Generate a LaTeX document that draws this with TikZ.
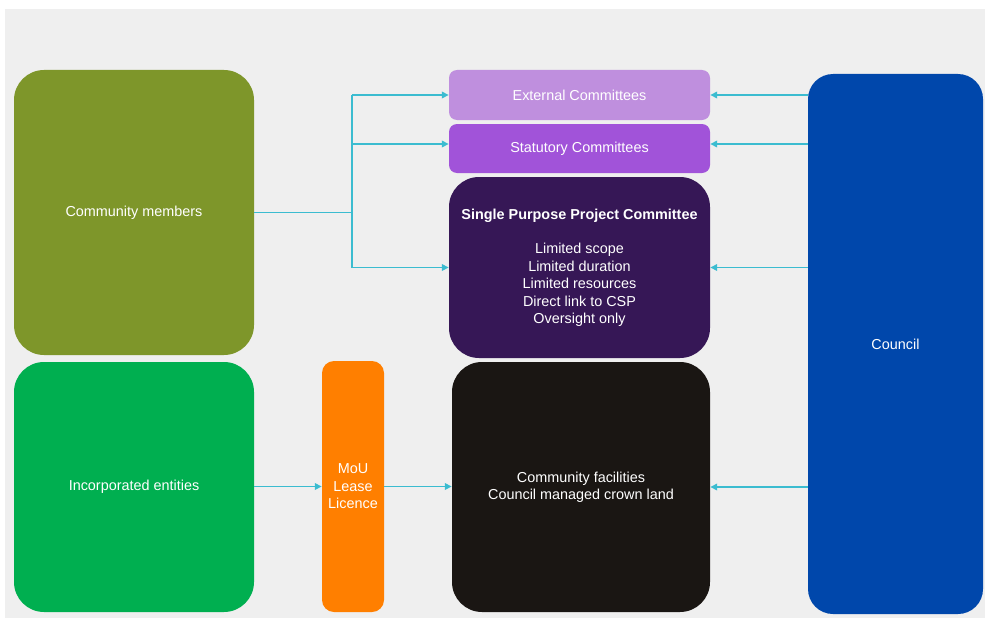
\documentclass[tikz,border=0pt]{standalone}
\usepackage{fontspec}
\setmainfont{Liberation Sans}
\usetikzlibrary{arrows.meta}
\definecolor{bgpanel}{HTML}{EFEFEF}
\definecolor{olivec}{HTML}{7E962A}
\definecolor{greenc}{HTML}{00AF50}
\definecolor{orangec}{HTML}{FF7F00}
\definecolor{extc}{HTML}{BF8FDE}
\definecolor{statc}{HTML}{A153D9}
\definecolor{spc}{HTML}{361756}
\definecolor{facc}{HTML}{1A1613}
\definecolor{councilc}{HTML}{0047AB}
\definecolor{linec}{HTML}{3BBCD0}
\tikzset{
  box/.style={rectangle, rounded corners=#1, text=white, align=center, inner sep=0pt,
    font=\fontsize{14.4}{17.4}\selectfont},
  box/.default=30pt,
  conn/.style={draw=linec, line width=1.8pt},
  arr/.style={conn, -{Triangle[length=7pt,width=6.5pt]}}
}
\begin{document}
\begin{tikzpicture}[x=1pt,y=-1pt]
\useasboundingbox (0,0) rectangle (985,618);
\fill[white] (0,0) rectangle (985,618);
\fill[bgpanel] (5,9) rectangle (985,618);
% nodes
\node[box, fill=olivec, minimum width=240pt, minimum height=285pt] (cm) at (134,212.5) {Community members};
\node[box, fill=greenc, minimum width=240pt, minimum height=250pt] (ie) at (134,487) {Incorporated entities};
\node[box=12pt, fill=orangec, minimum width=62pt, minimum height=251pt] (mou) at (353,486.5) {MoU\\Lease\\Licence};
\node[box=8pt, fill=extc, minimum width=261pt, minimum height=50pt] (ext) at (579.5,95) {External Committees};
\node[box=8pt, fill=statc, minimum width=261pt, minimum height=49pt] (stat) at (579.5,148.5) {Statutory Committees};
\node[box, fill=spc, minimum width=261pt, minimum height=181pt] (sp) at (579.5,267.5) {\textbf{Single Purpose Project Committee}\\[17.4pt]Limited scope\\Limited duration\\Limited resources\\Direct link to CSP\\Oversight only};
\node[box, fill=facc, minimum width=258pt, minimum height=250pt] (fac) at (581,487) {Community facilities\\Council managed crown land};
\node[box=25pt, fill=councilc, minimum width=175pt, minimum height=540pt] (co) at (895.5,344) {Council};
% connectors
\coordinate (j) at (352,212.5);
\draw[conn] (cm.east) -- (j);
\draw[conn] (j |- ext.west) -- (j |- sp.west);
\draw[arr] (j |- ext.west) -- (ext.west);
\draw[arr] (j |- 0,144) -- (stat.west |- 0,144);
\draw[arr] (j |- sp.west) -- (sp.west);
\draw[arr] (co.west |- ext.east) -- (ext.east);
\draw[arr] (co.west |- 0,144) -- (stat.east |- 0,144);
\draw[arr] (co.west |- sp.east) -- (sp.east);
\draw[arr] (co.west |- fac.east) -- (fac.east);
\draw[arr] (ie.east |- mou.west) -- (mou.west);
\draw[arr] (mou.east) -- (mou.east -| fac.west);
\end{tikzpicture}
\end{document}
